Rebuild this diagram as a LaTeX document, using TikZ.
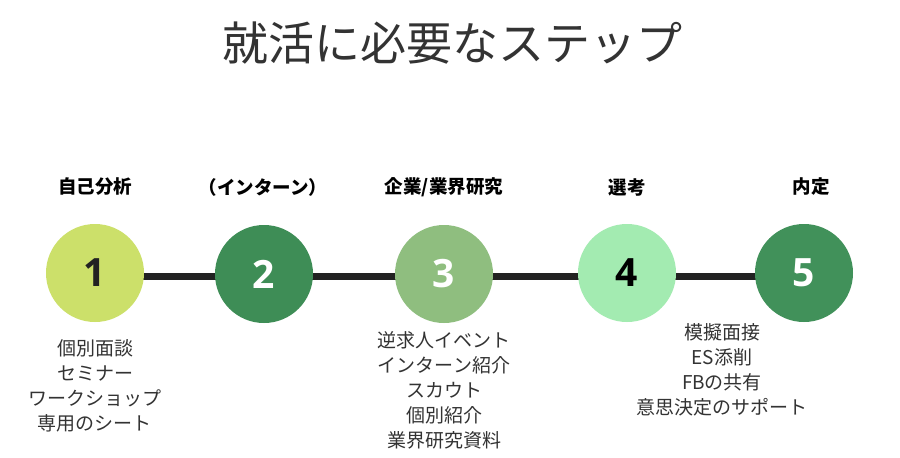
\documentclass[tikz,border=0pt]{standalone}
\usepackage{fontspec}
\setmainfont{Noto Sans CJK JP}
\newfontfamily\numfont{Open Sans}
\definecolor{cA}{HTML}{CCE06A}
\definecolor{cB}{HTML}{3E8D56}
\definecolor{cC}{HTML}{8FBE7F}
\definecolor{cD}{HTML}{A3EBB1}
\definecolor{cE}{HTML}{41915A}
\definecolor{txt}{HTML}{333333}
\definecolor{bar}{HTML}{222222}
\begin{document}
\begin{tikzpicture}[x=1pt,y=-1pt,
  stepcircle/.style={circle,minimum size=98pt,inner sep=0pt,font=\numfont\bfseries\fontsize{39}{39}\selectfont},
  header/.style={font=\bfseries\fontsize{18.5}{18.5}\selectfont,text=black},
  items/.style={font=\fontsize{19}{25}\selectfont,text=txt,align=center,anchor=north},
  link/.style={draw=bar,line width=7pt}]
\useasboundingbox[fill=white] (0,0) rectangle (900,458);
\node[font=\fontsize{46}{46}\selectfont,text=txt] (title) at (452,43) {就活に必要なステップ};
\coordinate (l1) at (95,276);
\coordinate (l5) at (804,276);
\draw[link] (l1) -- (l5);
\node[stepcircle,fill=cA,text=bar] (c1) at (95,273) {1};
\node[stepcircle,fill=cB,text=white] (c2) at (264,274) {2};
\node[stepcircle,fill=cC,text=white] (c3) at (444,274) {3};
\node[stepcircle,fill=cD,text=black] (c4) at (627,273) {4};
\node[stepcircle,fill=cE,text=white] (c5) at (804,273) {5};
\node[header] (h1) at (95,187) {自己分析};
\node[header] (h2) at (263,187) {（インターン）};
\node[header] (h3) at (444,187) {企業/業界研究};
\node[header] (h4) at (627,187) {選考};
\node[header] (h5) at (811,187) {内定};
\node[items] (t1) at (95,336) {個別面談\\セミナー\\ワークショップ\\専用のシート};
\node[items] (t3) at (444,328) {逆求人イベント\\インターン紹介\\スカウト\\個別紹介\\業界研究資料};
\node[items] (t4) at (722,320) {模擬面接\\ES添削\\FBの共有\\意思決定のサポート};
\end{tikzpicture}
\end{document}
